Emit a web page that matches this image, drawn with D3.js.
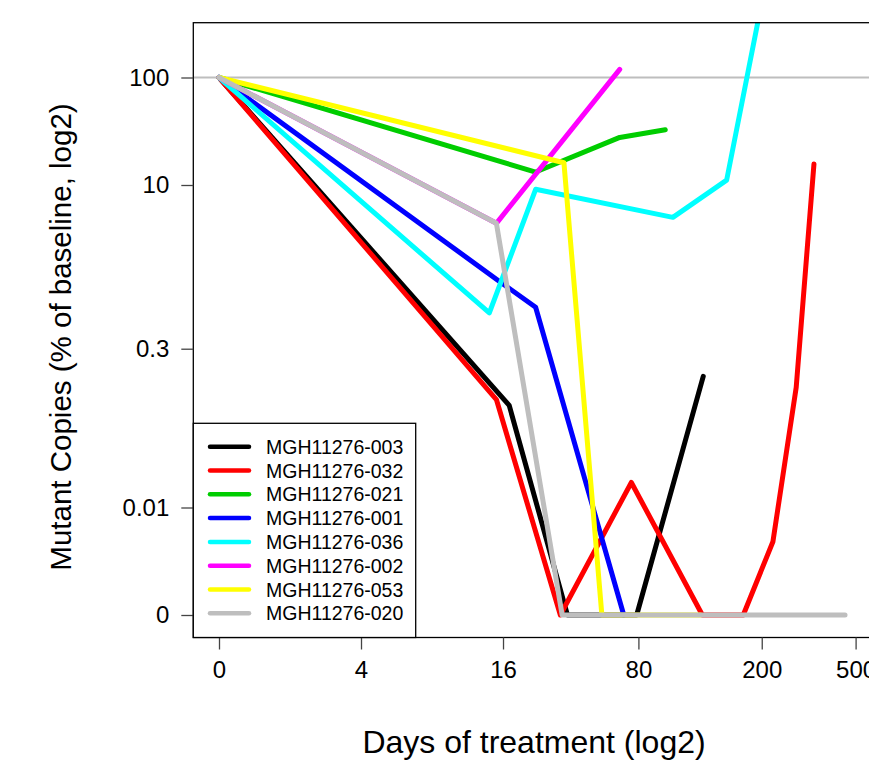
<!DOCTYPE html>
<html>
<head>
<meta charset="utf-8">
<script src="https://cdnjs.cloudflare.com/ajax/libs/d3/7.8.5/d3.min.js"></script>
<style>
  body { margin: 0; background: #fff; }
  text { font-family: "Liberation Sans", Arial, Helvetica, sans-serif; fill: #000; }
</style>
</head>
<body>
<div id="chart"></div>
<script>
//patient ids, in the legend order
var patients = ["MGH11276-003", "MGH11276-032", "MGH11276-021", "MGH11276-001",
                "MGH11276-036", "MGH11276-002", "MGH11276-053", "MGH11276-020"];
var colors = ["#000000", "#FF0000", "#00CD00", "#0000FF",
              "#00FFFF", "#FF00FF", "#FFFF00", "#BEBEBE"];

//days of treatment (day 0 drawn at 1 on the log2 axis)
var days = [
    [1, 17, 30, 59, 113],
    [1, 15, 28, 56, 112, 167, 223, 280, 333],
    [1, 22, 50, 78],
    [1, 15, 22, 52],
    [1, 14, 22, 84, 142, 200],
    [1, 15, 50],
    [1, 29, 42, 110],
    [1, 15, 28.5, 451]
];

//mutant copies, % of baseline (0 = undetectable)
var copies = [
    [100, 0.089, 0, 0, 0.166],
    [100, 0.101, 0, 0.0171, 0, 0, 0.0048, 0.131, 15.7],
    [100, 13.2, 27.7, 32.6],
    [100, 1.33, 0.73, 0],
    [100, 0.645, 9.12, 5.0, 11.1, 500],
    [100, 4.4, 119],
    [100, 16.1, 0, 0],
    [100, 4.4, 0, 0]
];

//axis ticks
var xTickValues = [1, 4, 16, 60, 200, 500];
var xTickLabels = ["0", "4", "16", "80", "200", "500"];
var yTickValues = [100, 10, 0.3, 0.01, 0.001];
var yTickLabels = ["100", "10", "0.3", "0.01", "0"];

var svgWidth = 869;
var svgHeight = 761;

//plot box in pixels
var box = {left: 193.3, right: 871, top: 22.7, bottom: 637.5};

var svg = d3.select("#chart").append("svg")
    .attr("width", svgWidth)
    .attr("height", svgHeight);

//log2 scales
var xScale = d3.scaleLog().base(2)
    .domain([1, 500])
    .range([219, 855.6]);

var yScale = d3.scaleLog().base(2)
    .domain([0.001, 100])
    .range([615, 77.5]);

//zero is drawn at the bottom of the scale
var floorValue = 0.001;

svg.append("clipPath")
    .attr("id", "plotClip")
    .append("rect")
    .attr("x", box.left)
    .attr("y", box.top)
    .attr("width", box.right - box.left)
    .attr("height", box.bottom - box.top);

//baseline reference at 100%
svg.append("line")
    .attr("x1", box.left)
    .attr("x2", box.right)
    .attr("y1", yScale(100))
    .attr("y2", yScale(100))
    .attr("stroke", "#BEBEBE")
    .attr("stroke-width", 2);

//build series
var series = patients.map(function(p, i) {
    return {
        name: p,
        color: colors[i],
        values: days[i].map(function(d, j) { return {day: d, pct: copies[i][j]}; })
    };
});

var line = d3.line()
    .x(d => xScale(d.day))
    .y(d => yScale(Math.max(d.pct, floorValue)));

svg.append("g")
    .attr("clip-path", "url(#plotClip)")
    .selectAll("path")
    .data(series)
    .enter()
    .append("path")
    .attr("d", d => line(d.values))
    .attr("fill", "none")
    .attr("stroke", d => d.color)
    .attr("stroke-width", 5)
    .attr("stroke-linecap", "round")
    .attr("stroke-linejoin", "round");

//box
svg.append("rect")
    .attr("x", box.left)
    .attr("y", box.top)
    .attr("width", box.right - box.left)
    .attr("height", box.bottom - box.top)
    .attr("fill", "none")
    .attr("stroke", "#000")
    .attr("stroke-width", 1.3);

//x axis
var bottomAxis = d3.axisBottom(xScale)
    .tickValues(xTickValues)
    .tickFormat((d, i) => xTickLabels[i])
    .tickSizeInner(12)
    .tickSizeOuter(0)
    .tickPadding(11);

var xAxis = svg.append("g")
    .attr("transform", `translate(0, ${box.bottom})`)
    .call(bottomAxis);
xAxis.select(".domain").remove();
xAxis.selectAll("line").attr("stroke", "#444").attr("stroke-width", 1.3);
xAxis.selectAll("text").attr("font-size", "24px").attr("fill", "#000")
    .attr("font-family", "Liberation Sans, Arial, sans-serif");

//y axis
var leftAxis = d3.axisLeft(yScale)
    .tickValues(yTickValues)
    .tickFormat((d, i) => yTickLabels[i])
    .tickSizeInner(12)
    .tickSizeOuter(0)
    .tickPadding(12);

var yAxis = svg.append("g")
    .attr("transform", `translate(${box.left}, 0)`)
    .call(leftAxis);
yAxis.select(".domain").remove();
yAxis.selectAll("line").attr("stroke", "#444").attr("stroke-width", 1.3);
yAxis.selectAll("text").attr("font-size", "24px").attr("fill", "#000")
    .attr("font-family", "Liberation Sans, Arial, sans-serif");

//axis titles
svg.append("text")
    .attr("x", 534)
    .attr("y", 753)
    .attr("text-anchor", "middle")
    .attr("font-size", "32px")
    .text("Days of treatment (log2)");

svg.append("text")
    .attr("transform", "translate(71, 337) rotate(-90)")
    .attr("text-anchor", "middle")
    .attr("font-size", "29.5px")
    .text("Mutant Copies (% of baseline, log2)");

//legend
var legend = svg.append("g");

legend.append("rect")
    .attr("x", box.left)
    .attr("y", 423.3)
    .attr("width", 415.7 - box.left)
    .attr("height", box.bottom - 423.3)
    .attr("fill", "#fff")
    .attr("stroke", "#000")
    .attr("stroke-width", 1.3);

var rows = legend.selectAll(".row")
    .data(series)
    .enter()
    .append("g")
    .attr("transform", (d, i) => `translate(0, ${446.7 + i * 23.8})`);

rows.append("line")
    .attr("x1", 210)
    .attr("x2", 249)
    .attr("stroke", d => d.color)
    .attr("stroke-width", 4.5)
    .attr("stroke-linecap", "round");

rows.append("text")
    .attr("x", 266)
    .attr("dy", "0.36em")
    .attr("font-size", "19.5px")
    .text(d => d.name);
</script>
</body>
</html>
